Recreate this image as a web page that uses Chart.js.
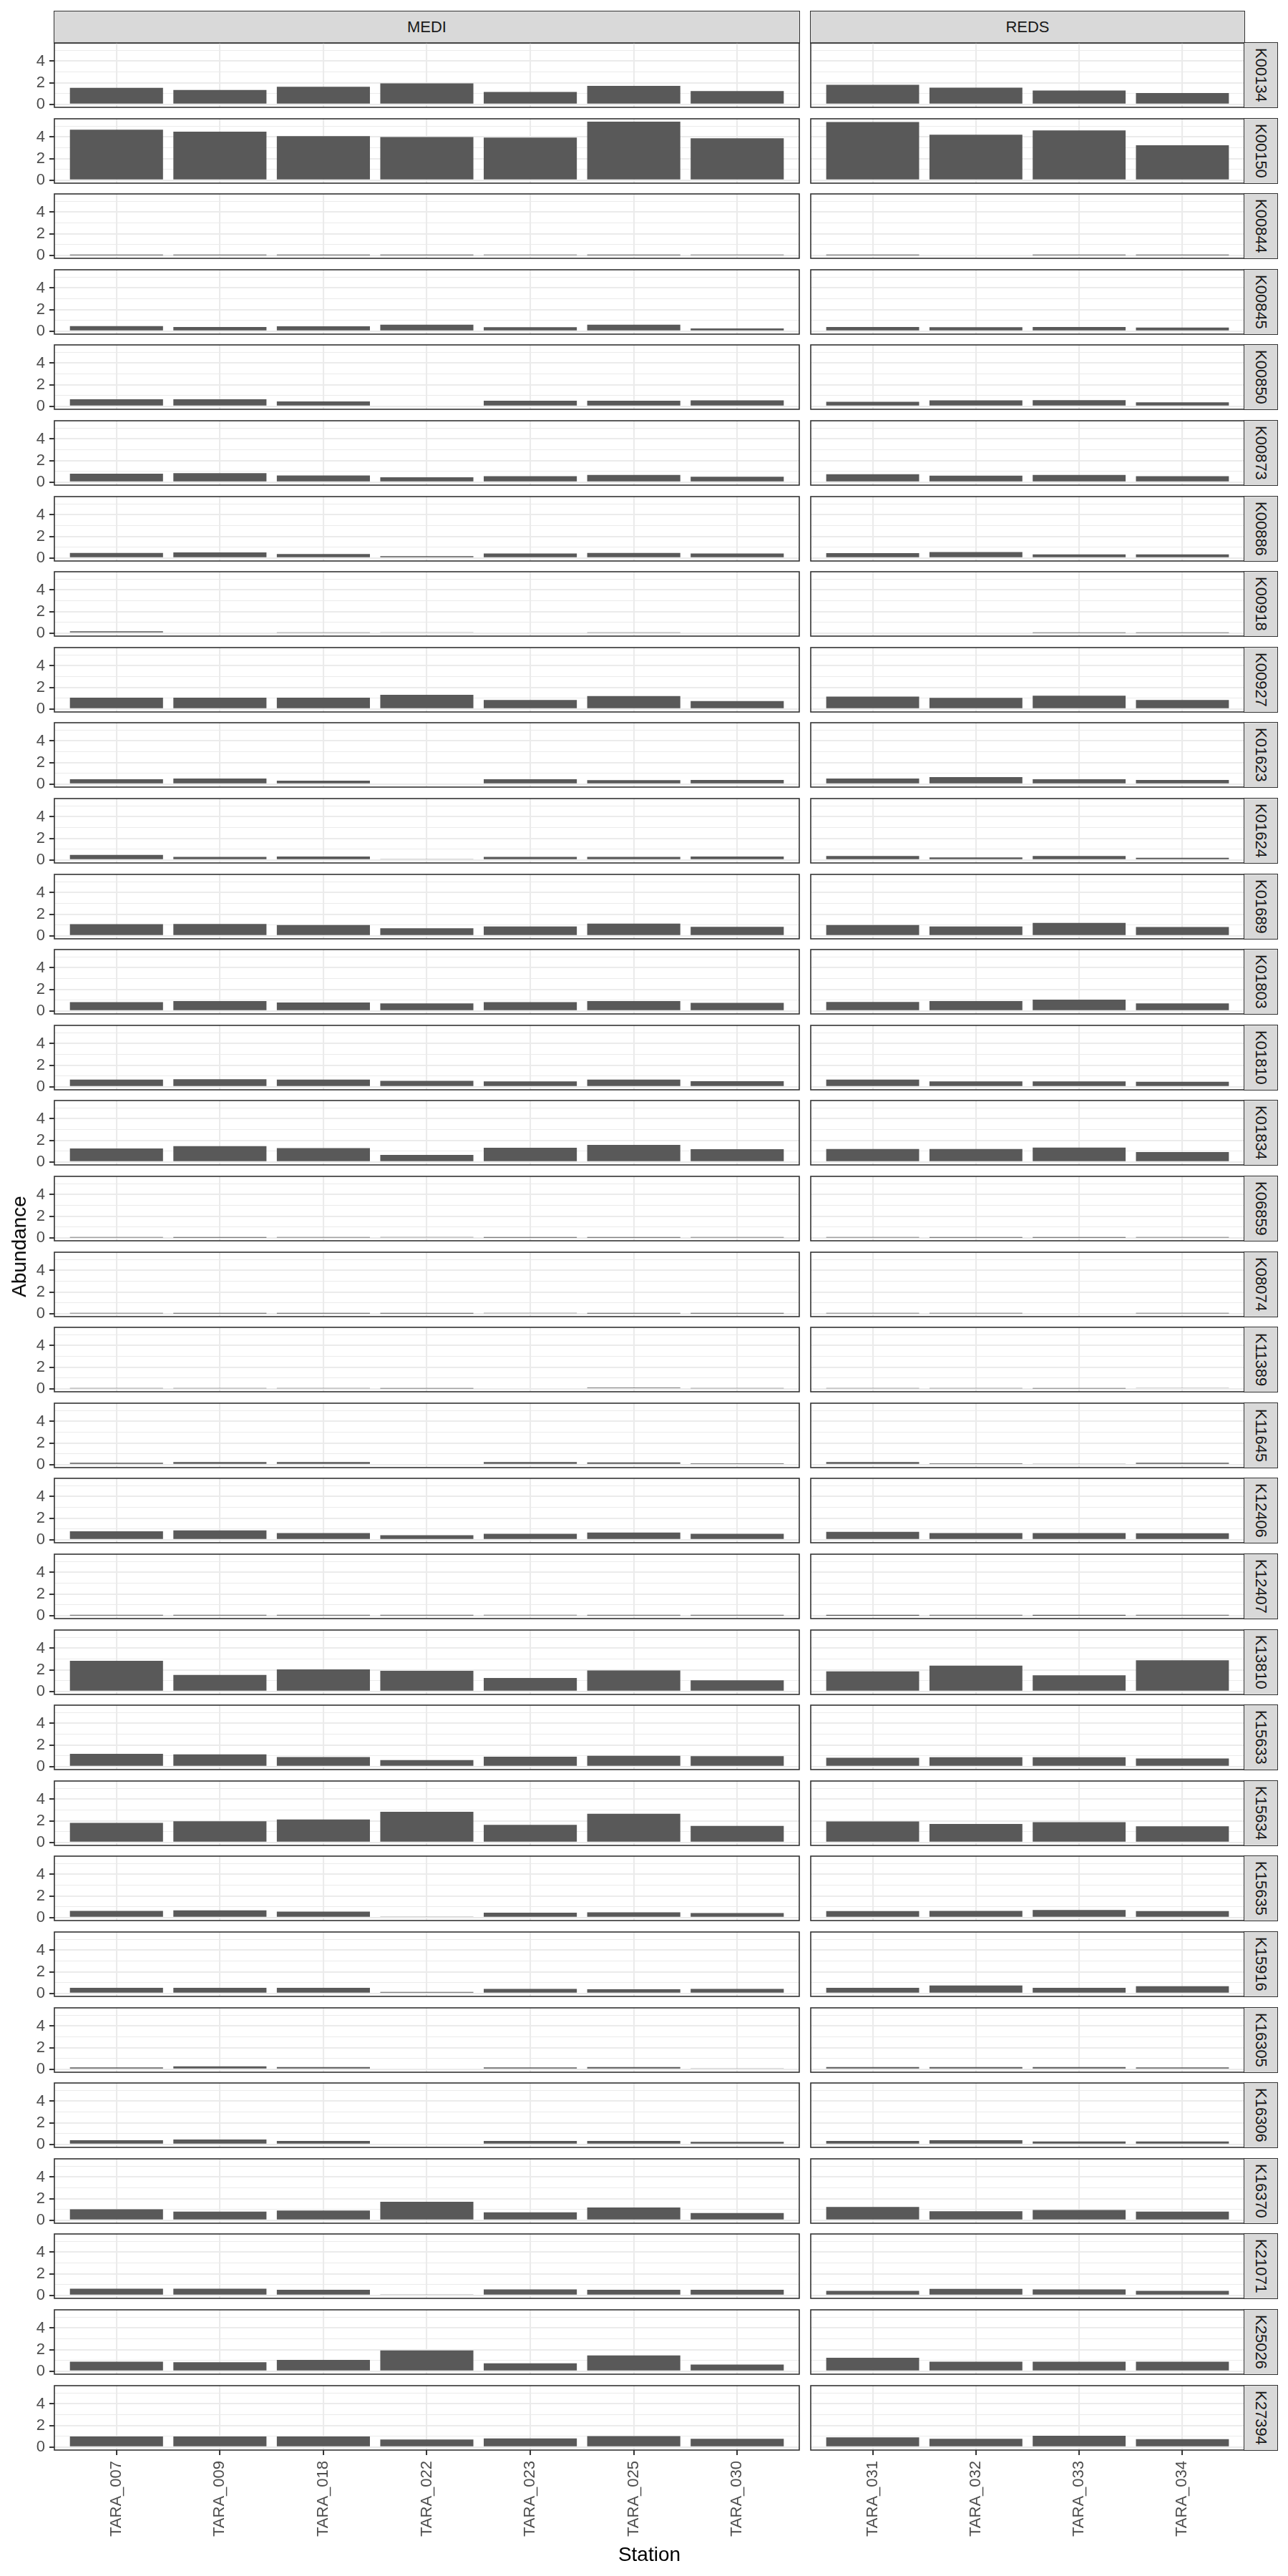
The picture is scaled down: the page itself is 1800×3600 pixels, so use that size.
<!DOCTYPE html>
<html><head><meta charset="utf-8">
<script src="https://cdn.jsdelivr.net/npm/chart.js@4.4.1/dist/chart.umd.min.js"></script>
<style>
html,body{margin:0;padding:0;background:#fff;}
#root{position:relative;width:1800px;height:3600px;overflow:hidden;font-family:"Liberation Sans",Arial,sans-serif;}
canvas{position:absolute;}
.strip{position:absolute;box-sizing:border-box;background:#D9D9D9;border:1.6px solid #333333;color:#1A1A1A;font-size:22px;display:flex;align-items:center;justify-content:center;white-space:nowrap;}
.vstrip{writing-mode:vertical-rl;}
.title{position:absolute;color:#000;font-size:28px;white-space:nowrap;line-height:1;}
</style></head><body><div id="root"></div>
<script>
// ---------------- data ----------------
const mediStations = ['TARA_007','TARA_009','TARA_018','TARA_022','TARA_023','TARA_025','TARA_030'];
const redsStations = ['TARA_031','TARA_032','TARA_033','TARA_034'];
const regions = ['MEDI','REDS'];
const kos = ['K00134','K00150','K00844','K00845','K00850','K00873','K00886','K00918','K00927','K01623','K01624','K01689','K01803','K01810','K01834','K06859','K08074','K11389','K11645','K12406','K12407','K13810','K15633','K15634','K15635','K15916','K16305','K16306','K16370','K21071','K25026','K27394'];
const yTicks = [0,1,2,3,4,5];
const yLabelTicks = [0,2,4];
const mediAbundance = [
 [1.53,1.34,1.63,1.95,1.16,1.71,1.24],
 [4.68,4.50,4.08,4.00,3.95,5.42,3.89],
 [0.01,0.01,0.01,0.01,0.02,0.01,0.03],
 [0.47,0.39,0.45,0.60,0.37,0.60,0.26],
 [0.66,0.66,0.45,0.08,0.53,0.53,0.55],
 [0.79,0.84,0.63,0.45,0.55,0.68,0.50],
 [0.47,0.53,0.37,0.18,0.42,0.47,0.42],
 [0.18,0.08,0.05,0.10,0.08,0.05,0.08],
 [1.05,1.05,1.05,1.32,0.84,1.21,0.74],
 [0.45,0.53,0.32,0.08,0.45,0.37,0.39],
 [0.47,0.29,0.32,0.10,0.29,0.29,0.32],
 [1.08,1.10,1.00,0.71,0.87,1.13,0.84],
 [0.82,0.92,0.79,0.71,0.82,0.92,0.76],
 [0.68,0.71,0.68,0.55,0.50,0.68,0.53],
 [1.26,1.47,1.29,0.66,1.32,1.58,1.18],
 [0.02,0.01,0.02,0.05,0.01,0.01,0.02],
 [0.02,0.01,0.01,0.01,0.04,0.01,0.01],
 [0.04,0.04,0.05,0.02,0.08,0.13,0.04],
 [0.18,0.24,0.24,0.08,0.24,0.21,0.13],
 [0.79,0.87,0.63,0.42,0.55,0.68,0.55],
 [0.01,0.01,0.01,0.01,0.02,0.005,0.01],
 [2.84,1.53,2.05,1.92,1.26,1.95,1.03],
 [1.18,1.13,0.89,0.61,0.92,1.00,0.97],
 [1.82,1.97,2.13,2.84,1.63,2.66,1.53],
 [0.63,0.67,0.56,0.10,0.46,0.49,0.42],
 [0.53,0.53,0.53,0.14,0.42,0.39,0.42],
 [0.18,0.28,0.21,0.07,0.18,0.21,0.10],
 [0.39,0.46,0.32,0.07,0.32,0.32,0.25],
 [1.02,0.81,0.91,1.72,0.74,1.19,0.67],
 [0.63,0.63,0.53,0.10,0.56,0.53,0.53],
 [0.88,0.84,1.05,1.93,0.74,1.47,0.63],
 [0.98,0.98,0.98,0.70,0.81,1.02,0.77]
];
const redsAbundance = [
 [1.82,1.55,1.29,1.05],
 [5.39,4.21,4.61,3.24],
 [0.01,0.08,0.01,0.01],
 [0.39,0.37,0.39,0.34],
 [0.42,0.55,0.58,0.37],
 [0.74,0.60,0.68,0.55],
 [0.45,0.55,0.34,0.34],
 [0.08,0.08,0.03,0.03],
 [1.16,1.03,1.24,0.84],
 [0.53,0.66,0.45,0.39],
 [0.37,0.24,0.37,0.21],
 [1.00,0.87,1.21,0.82],
 [0.84,0.92,1.05,0.71],
 [0.68,0.50,0.50,0.47],
 [1.21,1.21,1.34,0.92],
 [0.02,0.01,0.005,0.02],
 [0.02,0.02,0.08,0.02],
 [0.05,0.05,0.02,0.06],
 [0.24,0.13,0.10,0.18],
 [0.74,0.63,0.63,0.60],
 [0.002,0.005,0.002,0.005],
 [1.87,2.39,1.50,2.89],
 [0.82,0.87,0.87,0.76],
 [1.95,1.71,1.89,1.50],
 [0.60,0.63,0.70,0.60],
 [0.53,0.74,0.53,0.67],
 [0.21,0.21,0.21,0.18],
 [0.32,0.39,0.28,0.28],
 [1.23,0.84,0.95,0.81],
 [0.42,0.60,0.56,0.42],
 [1.26,0.88,0.88,0.88],
 [0.91,0.77,1.05,0.74]
];
const xTitle = 'Station';
const yTitle = 'Abundance';

// ---------------- layout / style ----------------
const FONT = '"Liberation Sans", Arial, sans-serif';
Chart.defaults.font.family = FONT;
const LAY = {colLeft:[76,1133], colRight:[1117,1739], stripRight:1785, stripTop:15, top0:60, pitch:105.6, panelH:90, pad:3, xAxisH:150};
const root = document.getElementById('root');

const allVals = mediAbundance.flat().concat(redsAbundance.flat());
const yMaxData = Math.max(...allVals);
const yMin = -0.05*yMaxData, yMax = 1.05*yMaxData;

const borderPlugin = {id:'panelBorder', afterDatasetsDraw(chart){
  const a = chart.chartArea, c = chart.ctx;
  c.save(); c.strokeStyle = '#333333'; c.lineWidth = 1.6;
  c.strokeRect(a.left, a.top, a.right-a.left, a.bottom-a.top); c.restore();
}};

function zeroPad(s){ s.paddingLeft = s.paddingRight = s.paddingTop = s.paddingBottom = 0; }

function panelTop(row){ return Math.round(LAY.top0 + row*LAY.pitch); }

function makePanel(col,row){
  const stations = col===0 ? mediStations : redsStations;
  const vals = (col===0 ? mediAbundance : redsAbundance)[row];
  const bottom = row === kos.length-1;
  const pad = LAY.pad;
  const plotW = LAY.colRight[col]-LAY.colLeft[col];
  const left = col===0 ? 0 : LAY.colLeft[col]-pad;
  const yAxisW = col===0 ? LAY.colLeft[0] : 0;
  const width = col===0 ? LAY.colRight[0]+pad : plotW+2*pad;
  const top = panelTop(row)-pad;
  const height = pad + LAY.panelH + (bottom ? LAY.xAxisH : pad);
  const cv = document.createElement('canvas');
  cv.width = width; cv.height = height;
  cv.style.left = left+'px'; cv.style.top = top+'px';
  cv.style.width = width+'px'; cv.style.height = height+'px';
  root.appendChild(cv);
  new Chart(cv, {
    type:'bar',
    data:{datasets:[{data: vals.map((v,i)=>({x:i,y:v})), backgroundColor:'#595959', borderWidth:0,
      categoryPercentage:0.9, barPercentage:1.0}]},
    options:{
      responsive:false, animation:false, devicePixelRatio:1, events:[],
      layout:{padding:{left: col===0?0:pad, right:pad, top:pad, bottom: bottom?0:pad}},
      plugins:{legend:{display:false}, tooltip:{enabled:false}, title:{display:false}},
      scales:{
        x:{type:'linear', min:-0.6, max:stations.length-1+0.6, offset:false,
           afterBuildTicks:s=>{ s.ticks = stations.map((_,i)=>({value:i})); },
           afterFit:s=>{ s.height = bottom ? LAY.xAxisH : 0; zeroPad(s); },
           grid:{offset:false, color:'#EBEBEB', lineWidth:2.1, drawTicks:bottom, tickLength:7, tickColor:'#333333', tickWidth:2},
           border:{display:false},
           ticks:{display:bottom, autoSkip:false, minRotation:90, maxRotation:90, padding:8, color:'#4D4D4D',
                  font:{size:22, family:FONT}, callback:v=>stations[v]}},
        y:{type:'linear', min:yMin, max:yMax, beginAtZero:false,
           afterBuildTicks:s=>{ s.ticks = yTicks.map(v=>({value:v})); },
           afterFit:s=>{ s.width = yAxisW; zeroPad(s); },
           grid:{color:'#EBEBEB', lineWidth:c=>(c.tick && yLabelTicks.includes(c.tick.value)) ? 2.1 : 1.05,
                 drawTicks: col===0, tickLength:7, tickWidth:2,
                 tickColor:c=>(c.tick && yLabelTicks.includes(c.tick.value)) ? '#333333' : 'rgba(0,0,0,0)'},
           border:{display:false},
           ticks:{display: col===0, autoSkip:false, padding:6, color:'#4D4D4D', font:{size:22, family:FONT},
                  callback:v=> yLabelTicks.includes(v) ? String(v) : ''}}
      }
    },
    plugins:[borderPlugin]
  });
}

// top strips
regions.forEach((r,col)=>{
  const d = document.createElement('div'); d.className='strip';
  d.style.left = (LAY.colLeft[col]-0.8)+'px'; d.style.top = LAY.stripTop+'px';
  d.style.width = (LAY.colRight[col]-LAY.colLeft[col]+1.6)+'px';
  d.style.height = (LAY.top0-LAY.stripTop+0.8)+'px';
  d.textContent = r; root.appendChild(d);
});
// right strips + panels
kos.forEach((k,row)=>{
  makePanel(0,row); makePanel(1,row);
  const d = document.createElement('div'); d.className='strip vstrip';
  d.style.left = (LAY.colRight[1]-0.8)+'px'; d.style.top = (panelTop(row)-0.8)+'px';
  d.style.width = (LAY.stripRight-LAY.colRight[1]+1.6)+'px';
  d.style.height = (LAY.panelH+1.6)+'px';
  d.textContent = k; root.appendChild(d);
});
// axis titles
const plotTop = LAY.top0, plotBottom = panelTop(kos.length-1)+LAY.panelH;
const xt = document.createElement('div'); xt.className='title'; xt.textContent = xTitle;
xt.style.left = ((LAY.colLeft[0]+LAY.colRight[1])/2)+'px'; xt.style.top='3570px';
xt.style.transform='translate(-50%,-50%)'; root.appendChild(xt);
const yt = document.createElement('div'); yt.className='title'; yt.textContent = yTitle;
yt.style.left='27px'; yt.style.top=((plotTop+plotBottom)/2)+'px';
yt.style.transform='translate(-50%,-50%) rotate(-90deg)'; root.appendChild(yt);
</script>
</body></html>
